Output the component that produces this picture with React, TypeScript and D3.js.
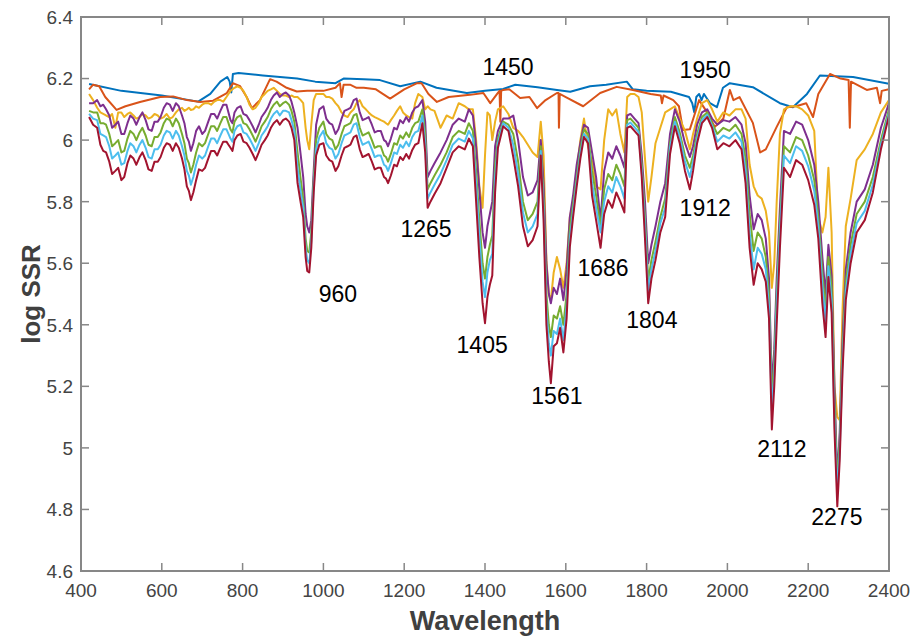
import React from 'react';
import * as d3 from 'd3';

// Shared wavelength grid for the five lower series
const wavelengths = [
  420,430,440,448,455,462,470,477,485,492,
  500,507,515,522,530,537,545,552,560,567,
  575,582,590,597,605,612,620,627,635,642,
  650,656,662,667,672,678,685,692,700,707,
  715,722,730,737,745,752,760,765,770,775,
  780,787,795,802,810,817,825,832,840,847,
  855,862,870,877,885,892,900,907,915,921,
  928,
  936,944,950,956,960,965,970,976,982,990,
  1000,1007,1015,1022,1030,1037,1045,1052,1060,1067,
  1075,1082,1090,1097,1105,1112,1120,1127,1135,1142,
  1150,1155,1160,1167,1175,1182,1190,1197,1205,1212,
  1220,1227,1235,
  1245,1252,1258,1265,1275,1290,
  1305,1320,1335,1350,1360,1370,1378,1386,1394,1400,
  1406,1412,1418,1425,1432,1445,1458,1470,1482,1494,
  1506,1518,1530,1538,1545,1552,1558,1563,1570,1578,
  1586,1594,1602,1610,1618,1627,1636,1645,1655,1665,
  1675,1686,1695,1705,1715,1725,1735,1745,1752,1760,
  1770,1780,1788,1796,1804,1812,1822,1834,1846,1858,
  1870,1882,1895,1907,1915,1925,1937,1950,1962,1975,
  1990,2005,2020,2035,2045,2055,2065,2075,2085,2095,
  2103,2110,2116,2122,2130,2140,2155,2170,2185,2200,
  2215,2225,2235,2243,2250,2258,2265,2272,2278,2285,
  2293,2305,2320,2340,2360,2380,2400,
];

const yellowVals = [
  6.15,6.13,6.105,6.09,6.085,6.08,6.075,6.085,6.04,6.09,
  6.09,6.075,6.085,6.09,6.08,6.07,6.075,6.085,6.08,6.07,
  6.075,6.085,6.08,6.07,6.075,6.085,6.07,6.075,6.09,6.10,
  6.105,6.095,6.10,6.105,6.098,6.10,6.11,6.105,6.115,6.12,
  6.12,6.115,6.125,6.13,6.13,6.125,6.14,6.15,6.16,6.165,
  6.17,6.175,6.17,6.16,6.14,6.115,6.10,6.105,6.12,6.14,
  6.15,6.16,6.165,6.17,6.16,6.15,6.145,6.145,6.14,6.145,
  6.14,
  6.14,6.13,6.12,6.04,6.0,5.97,6.05,6.13,6.15,6.15,
  6.15,6.14,6.14,6.135,6.12,6.11,6.09,6.08,6.075,6.09,
  6.10,6.12,6.13,6.11,6.10,6.09,6.08,6.075,6.07,6.065,
  6.06,6.055,6.05,6.065,6.08,6.095,6.11,6.09,6.08,6.075,
  6.07,6.12,6.15,
  6.14,6.10,6.11,6.10,6.095,6.04,
  6.08,6.07,6.12,6.11,6.10,6.10,6.0,5.85,5.78,5.95,
  6.09,6.08,6.0,6.06,6.10,6.11,6.085,6.04,6.03,6.01,
  5.985,5.96,5.945,6.06,5.95,5.61,5.50,5.48,5.57,5.62,
  5.58,5.52,5.60,5.75,5.80,5.90,6.0,6.07,5.98,5.93,
  5.85,5.84,6.0,6.10,6.08,6.10,6.02,5.96,6.14,6.15,
  6.15,6.14,6.09,5.94,5.80,5.88,5.99,6.04,6.09,6.10,
  6.11,6.07,6.03,5.97,6.02,6.07,6.12,6.13,6.10,6.06,
  6.09,6.08,6.10,6.10,6.07,5.92,5.85,5.82,5.81,5.77,
  5.70,5.52,5.60,5.80,6.02,6.10,6.11,6.11,6.10,6.08,
  6.03,5.75,5.70,5.75,5.91,5.70,5.20,5.10,5.09,5.45,
  5.72,5.81,5.935,5.97,6.02,6.09,6.13,
];

const purpleVals = [
  6.12,6.12,6.13,6.11,6.115,6.10,6.08,6.04,6.05,6.06,
  6.02,6.02,6.055,6.08,6.07,6.05,6.075,6.09,6.065,6.035,
  6.03,6.06,6.06,6.075,6.105,6.12,6.115,6.095,6.12,6.11,
  6.08,6.055,6.01,5.995,5.965,5.99,6.03,6.045,6.02,6.03,
  6.06,6.085,6.085,6.07,6.095,6.115,6.115,6.09,6.065,6.055,
  6.09,6.105,6.11,6.085,6.08,6.065,6.045,6.025,6.05,6.075,
  6.09,6.105,6.13,6.145,6.155,6.14,6.15,6.155,6.145,6.125,
  6.09,
  6.04,5.95,5.88,5.76,5.72,5.70,5.74,5.90,6.05,6.10,
  6.11,6.07,6.055,6.05,6.02,6.035,6.07,6.095,6.10,6.105,
  6.13,6.135,6.09,6.065,6.07,6.075,6.05,6.025,6.03,6.03,
  6.0,5.995,5.98,6.005,6.04,6.035,6.065,6.055,6.075,6.06,
  6.09,6.105,6.11,
  6.13,6.06,5.88,5.90,5.925,5.96,
  6.0,6.05,6.07,6.06,6.10,6.08,5.98,5.84,5.70,5.65,
  5.72,5.76,5.80,5.98,6.03,6.07,6.07,6.08,6.0,5.88,
  5.82,5.83,5.87,6.0,5.86,5.60,5.50,5.47,5.52,5.50,
  5.55,5.48,5.58,5.75,5.82,5.92,5.99,6.05,6.04,5.96,
  5.88,5.74,5.90,5.96,5.94,5.98,5.95,5.91,6.08,6.085,
  6.07,6.055,5.95,5.80,5.60,5.66,5.72,5.80,5.86,6.02,
  6.10,6.06,5.99,5.945,5.98,6.05,6.09,6.10,6.07,6.05,
  6.065,6.06,6.075,6.05,5.99,5.82,5.71,5.76,5.74,5.68,
  5.55,5.20,5.32,5.55,5.78,6.03,6.02,6.06,6.05,6.0,
  5.92,5.80,5.62,5.50,5.66,5.56,5.20,4.90,5.05,5.35,
  5.58,5.70,5.80,5.84,5.92,6.04,6.12,
];

const greenVals = [
  6.095,6.09,6.09,6.055,6.055,6.05,6.02,5.98,5.99,6.0,
  5.96,5.965,6.005,6.03,6.02,6.0,6.025,6.04,6.015,5.985,
  5.98,6.01,6.01,6.025,6.055,6.07,6.065,6.045,6.07,6.055,
  6.02,5.99,5.94,5.925,5.895,5.92,5.96,5.99,5.98,5.99,
  6.02,6.045,6.045,6.03,6.055,6.075,6.075,6.055,6.035,6.025,
  6.06,6.075,6.08,6.055,6.05,6.035,6.015,5.995,6.02,6.045,
  6.06,6.075,6.10,6.115,6.125,6.11,6.12,6.125,6.115,6.095,
  6.06,
  5.96,5.87,5.81,5.68,5.64,5.635,5.70,5.87,6.0,6.04,
  6.06,6.02,6.005,6.0,5.97,5.985,6.02,6.045,6.05,6.055,
  6.08,6.085,6.04,6.015,6.02,6.025,6.0,5.975,5.98,5.98,
  5.95,5.945,5.93,5.955,5.99,5.985,6.015,6.005,6.025,6.01,
  6.04,6.055,6.06,
  6.10,6.02,5.84,5.86,5.885,5.92,
  5.96,6.01,6.03,6.02,6.055,6.03,5.90,5.74,5.60,5.55,
  5.62,5.66,5.69,5.92,6.005,6.06,6.05,6.02,5.93,5.80,
  5.74,5.76,5.80,5.98,5.81,5.50,5.40,5.36,5.43,5.42,
  5.46,5.40,5.50,5.71,5.79,5.88,5.97,6.035,6.02,5.90,
  5.82,5.72,5.84,5.89,5.87,5.92,5.89,5.85,6.065,6.07,
  6.055,6.04,5.92,5.75,5.545,5.61,5.67,5.75,5.81,5.99,
  6.075,6.025,5.95,5.91,5.95,6.02,6.075,6.09,6.055,6.02,
  6.04,6.03,6.05,6.02,5.94,5.76,5.64,5.70,5.68,5.62,
  5.50,5.16,5.28,5.50,5.73,5.98,5.96,6.01,6.0,5.95,
  5.87,5.75,5.57,5.45,5.62,5.52,5.15,4.88,5.02,5.31,
  5.54,5.66,5.76,5.80,5.88,6.0,6.10,
];

const cyanVals = [
  6.085,6.07,6.065,6.02,6.015,6.01,5.98,5.94,5.95,5.96,
  5.92,5.925,5.965,5.99,5.98,5.96,5.985,6.0,5.975,5.945,
  5.94,5.97,5.97,5.985,6.015,6.03,6.025,6.005,6.03,6.015,
  5.98,5.95,5.90,5.885,5.855,5.88,5.92,5.95,5.94,5.95,
  5.98,6.005,6.005,5.99,6.015,6.035,6.035,6.02,6.005,5.995,
  6.03,6.045,6.05,6.025,6.02,6.005,5.985,5.965,5.99,6.015,
  6.03,6.045,6.07,6.085,6.095,6.08,6.095,6.095,6.09,6.065,
  6.03,
  5.91,5.83,5.78,5.65,5.61,5.60,5.67,5.85,5.97,6.01,
  6.03,5.99,5.975,5.97,5.94,5.955,5.99,6.015,6.02,6.025,
  6.05,6.055,6.01,5.985,5.99,5.995,5.97,5.945,5.95,5.95,
  5.92,5.915,5.90,5.925,5.96,5.955,5.985,5.975,5.995,5.98,
  6.01,6.025,6.03,
  6.08,5.99,5.81,5.83,5.855,5.89,
  5.935,5.985,6.005,5.995,6.03,6.005,5.86,5.69,5.54,5.49,
  5.57,5.61,5.63,5.88,5.99,6.055,6.04,5.985,5.89,5.765,
  5.70,5.72,5.76,5.965,5.78,5.45,5.34,5.30,5.38,5.37,
  5.42,5.35,5.46,5.68,5.77,5.865,5.955,6.02,6.005,5.86,
  5.78,5.70,5.80,5.85,5.83,5.88,5.85,5.81,6.05,6.057,
  6.042,6.027,5.90,5.72,5.51,5.58,5.64,5.73,5.78,5.975,
  6.06,6.01,5.93,5.88,5.93,6.005,6.065,6.083,6.048,5.995,
  6.015,6.005,6.025,5.995,5.90,5.70,5.58,5.65,5.63,5.58,
  5.46,5.12,5.24,5.46,5.70,5.95,5.925,5.98,5.965,5.915,
  5.835,5.72,5.53,5.41,5.59,5.48,5.10,4.86,4.99,5.28,
  5.51,5.63,5.73,5.77,5.855,5.985,6.09,
];

const redVals = [
  6.075,6.05,6.04,5.985,5.965,5.96,5.93,5.89,5.90,5.91,
  5.87,5.88,5.925,5.95,5.94,5.92,5.945,5.96,5.935,5.905,
  5.90,5.93,5.93,5.945,5.975,5.99,5.985,5.965,5.99,5.975,
  5.94,5.905,5.85,5.835,5.805,5.83,5.87,5.905,5.90,5.91,
  5.94,5.965,5.965,5.95,5.975,5.995,5.995,5.985,5.975,5.965,
  6.0,6.015,6.02,5.995,5.99,5.975,5.955,5.935,5.96,5.985,
  6.0,6.015,6.04,6.055,6.065,6.05,6.065,6.07,6.06,6.04,
  6.0,
  5.86,5.795,5.75,5.62,5.575,5.57,5.65,5.83,5.95,5.985,
  5.99,5.95,5.935,5.93,5.90,5.915,5.95,5.975,5.98,5.985,
  6.01,6.015,5.97,5.945,5.95,5.955,5.93,5.905,5.91,5.91,
  5.88,5.875,5.86,5.885,5.92,5.915,5.945,5.935,5.955,5.94,
  5.968,5.985,5.99,
  6.055,5.96,5.78,5.80,5.825,5.86,
  5.91,5.96,5.98,5.97,6.005,5.98,5.80,5.62,5.47,5.405,
  5.49,5.53,5.56,5.83,5.975,6.045,6.03,5.945,5.85,5.72,
  5.655,5.675,5.72,5.95,5.74,5.40,5.28,5.21,5.33,5.34,
  5.39,5.31,5.42,5.653,5.75,5.85,5.94,6.01,5.99,5.82,
  5.74,5.65,5.76,5.805,5.78,5.83,5.80,5.765,6.04,6.045,
  6.03,6.015,5.88,5.68,5.47,5.55,5.61,5.70,5.75,5.955,
  6.045,5.99,5.90,5.84,5.90,5.99,6.055,6.075,6.04,5.97,
  5.99,5.98,6.0,5.97,5.86,5.65,5.53,5.60,5.58,5.54,
  5.42,5.06,5.20,5.40,5.65,5.91,5.88,5.935,5.92,5.87,
  5.79,5.68,5.47,5.36,5.555,5.44,5.06,4.81,4.96,5.25,
  5.48,5.60,5.70,5.74,5.83,5.97,6.08,
];

// Smooth upper spectra on their own wavelength samples
const blueWl = [
  420,500,600,690,720,745,762,768,772,776,
  790,850,935,980,1030,1050,1100,1140,1190,1240,
  1280,1355,1400,1445,1475,1530,1578,1611,1660,1700,
  1751,1766,1800,1860,1905,1913,1918,1923,1930,1936,
  1942,1957,1974,1989,2006,2063,2130,2162,2197,2229,
  2311,2400,
];
const blueVals = [
  6.182,6.16,6.145,6.125,6.15,6.19,6.205,6.19,6.155,6.215,
  6.218,6.21,6.20,6.19,6.185,6.2,6.198,6.195,6.175,6.19,
  6.17,6.153,6.16,6.166,6.18,6.172,6.163,6.157,6.175,6.18,
  6.19,6.165,6.16,6.157,6.14,6.12,6.09,6.14,6.15,6.13,
  6.15,6.12,6.107,6.17,6.185,6.172,6.12,6.107,6.15,6.21,
  6.205,6.183,
];

const orangeWl = [
  420,430,445,460,488,510,546,596,628,662,
  695,727,761,776,794,810,823,843,868,884,
  909,934,960,1000,1030,1041,1045,1050,1066,1082,
  1100,1130,1165,1200,1232,1243,1260,1281,1310,1363,
  1396,1413,1430,1436,1438,1440,1445,1460,1487,1510,
  1529,1550,1578,1582,1583,1585,1600,1643,1685,1726,
  1766,1810,1835,1838,1842,1866,1880,1890,1907,1920,
  1930,1945,1969,1990,2006,2015,2030,2063,2081,2095,
  2122,2147,2170,2195,2212,2225,2254,2280,2300,2303,
  2306,2345,2370,2378,2382,2400,
];
const orangeVals = [
  6.165,6.18,6.175,6.14,6.098,6.11,6.124,6.14,6.142,6.13,
  6.124,6.128,6.153,6.185,6.175,6.14,6.104,6.13,6.198,6.19,
  6.17,6.158,6.16,6.16,6.17,6.185,6.14,6.18,6.18,6.17,
  6.17,6.165,6.135,6.165,6.185,6.185,6.15,6.124,6.14,6.147,
  6.153,6.12,6.15,6.16,6.06,6.16,6.163,6.165,6.137,6.14,
  6.104,6.13,6.153,6.153,6.04,6.15,6.14,6.11,6.153,6.173,
  6.163,6.15,6.145,6.12,6.145,6.13,6.11,6.033,6.035,6.088,
  6.13,6.10,6.043,6.07,6.163,6.13,6.14,6.056,5.96,5.97,
  6.043,6.107,6.11,6.12,6.075,6.15,6.215,6.2,6.195,6.04,
  6.19,6.163,6.17,6.12,6.16,6.165,
];

const xTickValues = [400,600,800,1000,1200,1400,1600,1800,2000,2200,2400];
const yTickValues = [4.6,4.8,5,5.2,5.4,5.6,5.8,6,6.2,6.4];
const yTickLabels = ['4.6','4.8','5','5.2','5.4','5.6','5.8','6','6.2','6.4'];

const peakTexts = ['960','1265','1405','1561','1686','1804','1912','1450','1950','2112','2275'];
const peakTextX = [1036,1254,1393,1578,1692,1813,1945,1457,1945,2135,2271];
const peakTextY = [5.474,5.685,5.308,5.143,5.559,5.39,5.753,6.212,6.202,4.97,4.75];

const seriesColors = ['#0072BD','#D95319','#EDB120','#7E2F8E','#77AC30','#4DBEEE','#A2142F'];

export default function App() {
  const W = 910, H = 639;
  const L = 81, R = 889, T = 17, B = 571;
  const x = d3.scaleLinear().domain([400, 2400]).range([L, R]);
  const y = d3.scaleLinear().domain([4.6, 6.4]).range([B, T]);
  const line = d3.line<[number, number]>()
    .defined(d => d[1] !== undefined && !isNaN(d[1]))
    .x(d => x(d[0]))
    .y(d => y(d[1]));

  const zip = (wl: number[], v: number[]) => wl.map((w, i) => [w, v[i]] as [number, number]);
  const series = [
    zip(blueWl, blueVals),
    zip(orangeWl, orangeVals),
    zip(wavelengths, yellowVals),
    zip(wavelengths, purpleVals),
    zip(wavelengths, greenVals),
    zip(wavelengths, cyanVals),
    zip(wavelengths, redVals),
  ];

  const axisColor = '#878787';
  const tickLen = 8;
  const font = '"Liberation Sans", Arial, Helvetica, sans-serif';

  return (
    <svg width={W} height={H} style={{ position: 'absolute', left: 0, top: 0 }} fontFamily={font}>
      <rect x={0} y={0} width={W} height={H} fill="#ffffff" />
      <defs>
        <clipPath id="plotclip">
          <rect x={L} y={T} width={R - L} height={B - T} />
        </clipPath>
      </defs>
      <g clipPath="url(#plotclip)">
        {series.map((s, i) => (
          <path key={i} d={line(s) || ''} fill="none" stroke={seriesColors[i]} strokeWidth={2} strokeLinejoin="round" />
        ))}
      </g>
      <rect x={L} y={T} width={R - L} height={B - T} fill="none" stroke={axisColor} strokeWidth={2} />
      {xTickValues.map(t => (
        <g key={'xt' + t}>
          <line x1={x(t)} x2={x(t)} y1={B} y2={B - tickLen} stroke={axisColor} strokeWidth={1.5} />
          <line x1={x(t)} x2={x(t)} y1={T} y2={T + tickLen} stroke={axisColor} strokeWidth={1.5} />
          <text x={x(t)} y={597} textAnchor="middle" fontSize={19} fill="#444444">{t}</text>
        </g>
      ))}
      {yTickValues.map((t, i) => (
        <g key={'yt' + t}>
          <line x1={L} x2={L + tickLen} y1={y(t)} y2={y(t)} stroke={axisColor} strokeWidth={1.5} />
          <line x1={R} x2={R - tickLen} y1={y(t)} y2={y(t)} stroke={axisColor} strokeWidth={1.5} />
          <text x={73} y={y(t)} dy="0.36em" textAnchor="end" fontSize={19} fill="#444444">{yTickLabels[i]}</text>
        </g>
      ))}
      {peakTexts.map((p, i) => (
        <text key={'pk' + i} x={x(peakTextX[i])} y={y(peakTextY[i])} textAnchor="middle" fontSize={23} fill="#000000">{p}</text>
      ))}
      <text x={(L + R) / 2} y={630} textAnchor="middle" fontSize={27} fontWeight="bold" fill="#404040">Wavelength</text>
      <text transform={`translate(40,${(T + B) / 2}) rotate(-90)`} textAnchor="middle" fontSize={26} fontWeight="bold" fill="#404040">log SSR</text>
    </svg>
  );
}
